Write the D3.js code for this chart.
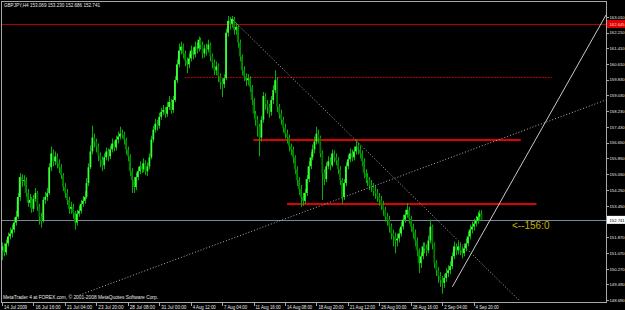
<!DOCTYPE html>
<html>
<head>
<meta charset="utf-8">
<script src="https://cdn.jsdelivr.net/npm/d3@7"></script>
<style>
body{margin:0;background:#000;}
svg{display:block;}
text{font-family:"Liberation Sans",Arial,sans-serif;}
</style>
</head>
<body>
<svg id="chart" width="625" height="310"></svg>
<script>
// GBPJPY H4 candles, one value per bar
var barOpen = [
151.20,151.40,151.10,151.55,151.90,152.05,152.25,152.60,152.90,153.90,
154.90,154.70,154.75,154.10,153.60,153.75,153.30,153.80,154.10,153.40,
152.90,152.70,153.75,153.90,154.10,155.40,156.10,155.70,155.95,155.60,
155.40,155.00,154.40,154.10,153.75,153.30,153.40,153.10,152.60,153.05,
153.20,153.55,153.70,153.90,154.60,155.40,156.20,156.90,156.70,156.45,
156.00,155.75,155.50,155.90,156.20,155.95,156.30,156.60,156.40,156.80,
156.95,157.10,157.05,156.80,156.30,155.95,155.20,154.75,154.40,154.90,
155.20,155.45,155.30,155.60,155.20,155.45,155.90,156.80,157.30,157.60,
157.50,157.95,158.20,158.30,158.10,158.45,158.70,158.30,158.80,159.80,
160.60,161.30,161.50,161.15,160.80,160.60,160.90,161.30,161.10,161.50,
161.40,161.85,161.60,161.15,161.40,161.35,161.60,161.00,160.70,160.30,
160.50,160.00,159.70,159.60,159.90,162.20,162.80,162.65,162.90,162.35,
162.50,161.70,161.00,160.30,160.00,159.80,159.90,159.45,158.80,158.10,
157.80,157.45,156.90,157.80,159.00,158.60,158.45,158.20,158.80,159.30,
159.80,158.45,158.10,157.80,157.40,157.10,156.90,156.45,156.30,155.90,
155.30,154.75,154.30,153.90,153.70,154.10,154.80,155.45,155.90,156.30,
156.70,157.10,156.90,156.10,155.10,154.80,155.45,155.70,155.50,156.10,
155.90,155.75,155.30,154.75,153.90,154.60,155.45,155.80,156.10,155.90,
156.20,156.45,156.30,156.10,155.70,155.10,154.90,154.75,154.50,154.40,
154.20,154.10,153.90,153.75,153.50,153.25,152.90,152.75,152.40,152.05,
151.90,151.70,151.80,152.05,152.40,152.75,153.00,153.25,152.80,152.40,
152.10,151.70,151.20,150.55,150.90,151.40,151.30,151.20,151.70,152.40,
151.50,150.55,150.20,149.90,149.70,149.55,149.80,150.05,150.20,150.40,
150.90,151.40,151.20,151.40,151.20,151.05,151.30,151.55,151.90,152.25,
152.40,152.55,152.70,152.90,153.07];

var barHigh = [
151.60,151.55,151.75,152.10,152.35,152.50,152.85,153.20,154.10,155.10,
155.05,155.00,154.90,154.30,154.05,153.90,154.00,154.35,154.20,153.55,
153.10,153.90,154.15,154.35,155.60,156.45,156.30,156.20,156.10,155.80,
155.55,155.10,154.60,154.30,153.90,153.65,153.55,153.20,153.25,153.45,
153.75,153.95,154.20,154.85,155.60,156.50,157.50,157.10,156.85,156.60,
156.15,155.95,156.10,156.40,156.35,156.50,156.85,156.75,157.00,157.20,
157.45,157.30,157.20,156.90,156.45,156.05,155.35,154.90,155.10,155.40,
155.70,155.60,155.85,155.75,155.65,156.10,157.00,157.50,157.85,157.80,
158.15,158.40,158.55,158.45,158.70,159.00,158.85,159.00,160.00,160.85,
161.65,161.75,161.65,161.30,160.95,161.15,161.55,161.45,161.75,161.70,
162.00,161.95,161.75,161.60,161.65,161.85,161.70,161.15,160.85,160.75,
160.65,160.15,159.90,160.10,162.40,163.05,163.00,163.05,163.00,162.70,
162.60,161.85,161.10,160.50,160.15,160.10,160.00,159.55,158.90,158.25,
158.00,157.60,158.00,159.20,159.15,158.80,158.60,159.00,159.55,160.30,
159.95,158.60,158.30,157.95,157.60,157.30,157.05,156.60,156.45,156.00,
155.45,154.90,154.50,154.10,154.30,155.00,155.70,156.15,156.55,156.95,
157.45,157.30,157.00,156.25,155.30,155.65,155.95,155.90,156.30,156.25,
156.10,155.90,155.45,154.85,154.80,155.65,156.05,156.35,156.30,156.45,
156.80,156.65,156.50,156.25,155.85,155.30,155.10,154.90,154.75,154.60,
154.45,154.30,154.10,153.95,153.70,153.40,153.10,152.95,152.55,152.25,
152.10,152.05,152.30,152.65,153.00,153.25,153.60,153.40,152.95,152.55,
152.25,151.85,151.30,151.10,151.60,151.60,151.50,151.95,152.75,152.50,
151.60,150.70,150.35,150.10,149.90,150.00,150.30,150.45,150.65,151.10,
151.65,151.55,151.65,151.55,151.40,151.55,151.80,152.15,152.50,152.65,
152.80,152.95,153.15,153.23,153.23];

var barLow = [
150.70,150.90,150.95,151.40,151.75,151.85,152.10,152.45,152.80,153.70,
154.40,154.45,153.90,153.40,153.35,153.10,153.15,153.65,153.20,152.50,
152.35,152.60,153.55,153.70,154.00,155.20,155.45,155.50,155.35,155.10,
154.80,154.20,153.85,153.50,153.05,153.05,152.80,152.25,152.45,152.90,
153.05,153.40,153.55,153.80,154.45,155.30,156.05,156.40,156.15,155.70,
155.40,155.20,155.30,155.75,155.70,155.80,156.15,156.20,156.25,156.60,
156.80,156.85,156.55,156.05,155.70,154.95,154.10,154.10,154.25,154.75,
155.05,155.10,155.15,155.00,154.95,155.30,155.80,156.65,157.15,157.25,
157.35,157.80,158.05,157.90,157.95,158.30,158.10,158.15,158.70,159.65,
160.45,161.10,160.90,160.50,160.15,160.40,160.75,160.85,160.95,161.15,
161.25,161.35,160.90,160.95,161.05,161.20,160.75,160.40,160.05,160.05,
159.70,159.35,158.95,159.40,159.80,162.00,162.35,162.45,162.10,162.10,
161.45,160.75,160.05,159.75,159.50,159.55,159.20,158.55,157.85,157.50,
156.95,155.95,156.70,157.65,158.30,158.10,157.90,158.00,158.60,159.15,
158.20,157.85,157.55,157.15,156.85,156.60,156.20,156.00,155.60,155.05,
154.45,154.00,153.40,153.45,153.55,153.95,154.65,155.30,155.75,156.10,
156.55,156.60,155.90,153.75,154.50,154.65,155.30,155.25,155.40,155.65,
155.50,155.05,154.50,153.55,153.75,154.45,155.30,155.65,155.70,155.75,
156.05,156.05,155.85,155.45,154.85,154.60,154.45,154.25,154.15,153.95,
153.80,153.65,153.45,153.25,152.95,152.65,152.45,152.10,151.75,151.40,
151.05,151.40,151.60,151.90,152.25,152.60,152.85,152.55,152.15,151.80,
151.40,150.90,150.05,150.30,150.75,151.05,150.90,151.05,151.55,151.25,
150.30,149.90,149.55,149.35,149.00,149.30,149.60,149.85,150.00,150.25,
150.75,150.95,151.00,150.95,150.80,150.90,151.15,151.40,151.75,152.05,
152.20,152.40,152.55,152.69,152.69];

var barClose = [
151.40,151.10,151.55,151.90,152.05,152.25,152.60,152.90,153.90,154.90,
154.70,154.75,154.10,153.60,153.75,153.30,153.80,154.10,153.40,152.90,
152.70,153.75,153.90,154.10,155.40,156.10,155.70,155.95,155.60,155.40,
155.00,154.40,154.10,153.75,153.30,153.40,153.10,152.60,153.05,153.20,
153.55,153.70,153.90,154.60,155.40,156.20,156.90,156.70,156.45,156.00,
155.75,155.50,155.90,156.20,155.95,156.30,156.60,156.40,156.80,156.95,
157.10,157.05,156.80,156.30,155.95,155.20,154.75,154.40,154.90,155.20,
155.45,155.30,155.60,155.20,155.45,155.90,156.80,157.30,157.60,157.50,
157.95,158.20,158.30,158.10,158.45,158.70,158.30,158.80,159.80,160.60,
161.30,161.50,161.15,160.80,160.60,160.90,161.30,161.10,161.50,161.40,
161.85,161.60,161.15,161.40,161.35,161.60,161.00,160.70,160.30,160.50,
160.00,159.70,159.60,159.90,162.20,162.80,162.65,162.90,162.35,162.50,
161.70,161.00,160.30,160.00,159.80,159.90,159.45,158.80,158.10,157.80,
157.45,156.90,157.80,159.00,158.60,158.45,158.20,158.80,159.30,159.80,
158.45,158.10,157.80,157.40,157.10,156.90,156.45,156.30,155.90,155.30,
154.75,154.30,153.90,153.70,154.10,154.80,155.45,155.90,156.30,156.70,
157.10,156.90,156.10,155.10,154.80,155.45,155.70,155.50,156.10,155.90,
155.75,155.30,154.75,153.90,154.60,155.45,155.80,156.10,155.90,156.20,
156.45,156.30,156.10,155.70,155.10,154.90,154.75,154.50,154.40,154.20,
154.10,153.90,153.75,153.50,153.25,152.90,152.75,152.40,152.05,151.90,
151.70,151.80,152.05,152.40,152.75,153.00,153.25,152.80,152.40,152.10,
151.70,151.20,150.55,150.90,151.40,151.30,151.20,151.70,152.40,151.50,
150.55,150.20,149.90,149.70,149.55,149.80,150.05,150.20,150.40,150.90,
151.40,151.20,151.40,151.20,151.05,151.30,151.55,151.90,152.25,152.40,
152.55,152.70,152.90,153.07,152.74];

// time axis: label every 16 bars
var timeTickBars = [0,16,32,48,64,80,96,112,128,144,160,176,192,208,224,240];
var timeLabels = ["14 Jul 2009","16 Jul 16:00","21 Jul 04:00","23 Jul 20:00","28 Jul 08:00",
	"31 Jul 00:00","4 Aug 12:00","7 Aug 04:00","11 Aug 16:00","14 Aug 08:00","18 Aug 20:00",
	"21 Aug 12:00","26 Aug 00:00","28 Aug 16:00","2 Sep 04:00","4 Sep 20:00"];

var priceTicks = [163.010,162.210,161.410,160.610,159.830,159.030,158.230,157.430,156.650,
	155.850,155.050,154.250,153.450,151.870,151.070,150.270,149.490,148.690];

var bidPrice = 152.741,
	alertPrice = 162.645;

// drawn support / resistance levels: [price, fromBar, toBar]
var levelThin = [159.96, 93, 280];
var levelsThick = [[156.78, 128, 264], [153.56, 145, 272]];

// trend lines: [bar0, price0, bar1, price1]
var trendDown = [117.6, 162.84, 263, 148.69];
var trendLong = [39.5, 148.94, 307.3, 158.80];
var trendUp = [229.2, 149.36, 307.4, 163.10];

var headerText = "GBPJPY,H4  153.069 153.230 152.686 152.741";
var footerText = "MetaTrader 4 at FOREX.com, \u00a9 2001-2008 MetaQuotes Software Corp.";
var noteText = "<--156:0";

(function(){
	/*** layout ***/
	var W = 625, H = 310,
		pLeft = 1, pRight = 606, pTop = 1, pBottom = 302;

	var svg = d3.select("#chart");
	svg.append("rect").attr("width", W).attr("height", H).attr("fill", "#000");

	var x = d3.scaleLinear().domain([0, 244]).range([2, 2 + 244 * 1.965]);
	var y = d3.scaleLinear().domain([148.69, 163.01]).range([300, 16.7]);

	svg.append("clipPath").attr("id", "plotclip")
		.append("rect").attr("x", pLeft).attr("y", pTop)
		.attr("width", pRight - pLeft).attr("height", pBottom - pTop);
	var plot = svg.append("g").attr("clip-path", "url(#plotclip)");

	function crisp(v){ return Math.round(v) + 0.5; }

	// full width lines
	plot.append("line")
		.attr("x1", pLeft).attr("x2", pRight)
		.attr("y1", crisp(y(alertPrice))).attr("y2", crisp(y(alertPrice)))
		.attr("stroke", "#b00000").attr("stroke-width", 1);

	plot.append("line")
		.attr("x1", pLeft).attr("x2", pRight)
		.attr("y1", crisp(y(bidPrice))).attr("y2", crisp(y(bidPrice)))
		.attr("stroke", "#778899").attr("stroke-width", 1);

	// levels
	plot.append("line")
		.attr("x1", x(levelThin[1])).attr("x2", x(levelThin[2]))
		.attr("y1", crisp(y(levelThin[0]))).attr("y2", crisp(y(levelThin[0])))
		.attr("stroke", "#c00000").attr("stroke-width", 1).attr("stroke-dasharray", "2,1");

	plot.selectAll(".level").data(levelsThick).enter()
		.append("line")
		.attr("class", "level")
		.attr("x1", function(d){ return x(d[1]); })
		.attr("x2", function(d){ return x(d[2]); })
		.attr("y1", function(d){ return Math.round(y(d[0])); })
		.attr("y2", function(d){ return Math.round(y(d[0])); })
		.attr("stroke", "#e00000").attr("stroke-width", 2);

	// candles
	var bars = d3.range(barClose.length);
	plot.selectAll(".wick").data(bars).enter()
		.append("line")
		.attr("class", "wick")
		.attr("x1", function(i){ return crisp(x(i)); })
		.attr("x2", function(i){ return crisp(x(i)); })
		.attr("y1", function(i){ return y(barHigh[i]); })
		.attr("y2", function(i){ return y(barLow[i]); })
		.attr("stroke", "#00b400").attr("stroke-width", 1);

	plot.selectAll(".body").data(bars).enter()
		.append("rect")
		.attr("class", "body")
		.attr("x", function(i){ return x(i) - 0.9; })
		.attr("width", 1.8)
		.attr("y", function(i){ return y(Math.max(barOpen[i], barClose[i])); })
		.attr("height", function(i){ return Math.max(1, Math.abs(y(barOpen[i]) - y(barClose[i]))); })
		.attr("fill", function(i){ return barClose[i] >= barOpen[i] ? "#3cff3c" : "#007800"; });

	// trend lines
	function trend(t, dash, color){
		var l = plot.append("line")
			.attr("x1", x(t[0])).attr("y1", y(t[1]))
			.attr("x2", x(t[2])).attr("y2", y(t[3]))
			.attr("stroke", color).attr("stroke-width", 1);
		if(dash){ l.attr("stroke-dasharray", dash); }
	}
	trend(trendDown, "1,2", "#b0b0b0");
	trend(trendLong, "1,2", "#b0b0b0");
	trend(trendUp, null, "#c8c8c8");

	// frame
	svg.append("rect")
		.attr("x", pLeft + 0.5).attr("y", pTop + 0.5)
		.attr("width", pRight - pLeft).attr("height", pBottom - pTop)
		.attr("fill", "none").attr("stroke", "#a8a8a8").attr("stroke-width", 1);

	// price axis
	var pAxis = svg.append("g");
	pAxis.selectAll(".ptick").data(priceTicks).enter()
		.append("line")
		.attr("x1", pRight + 0.5).attr("x2", pRight + 3)
		.attr("y1", function(d){ return crisp(y(d)); })
		.attr("y2", function(d){ return crisp(y(d)); })
		.attr("stroke", "#a8a8a8");
	pAxis.selectAll(".plabel").data(priceTicks).enter()
		.append("text")
		.attr("x", pRight + 3.5)
		.attr("y", function(d){ return y(d) + 1.8; })
		.attr("fill", "#e8e8e8").attr("font-size", "4.2px")
		.text(function(d){ return d.toFixed(3); });

	function priceBox(p, fill, textColor){
		pAxis.append("rect")
			.attr("x", pRight + 1).attr("y", y(p) - 4)
			.attr("width", W - pRight).attr("height", 8)
			.attr("fill", fill);
		pAxis.append("text")
			.attr("x", pRight + 3.5).attr("y", y(p) + 1.8)
			.attr("fill", textColor).attr("font-size", "4.2px")
			.text(p.toFixed(3));
	}
	priceBox(alertPrice, "#e00000", "#ffd0d0");
	priceBox(bidPrice, "#ffffff", "#000000");

	// time axis
	var tAxis = svg.append("g");
	tAxis.selectAll(".ttick").data(timeTickBars).enter()
		.append("line")
		.attr("x1", function(d){ return crisp(x(d)); })
		.attr("x2", function(d){ return crisp(x(d)); })
		.attr("y1", pBottom + 0.5).attr("y2", pBottom + 4)
		.attr("stroke", "#a8a8a8");
	tAxis.selectAll(".tlabel").data(timeTickBars).enter()
		.append("text")
		.attr("x", function(d){ return x(d) + 2; })
		.attr("y", 308.5)
		.attr("fill", "#e8e8e8").attr("font-size", "5.4px")
		.attr("textLength", function(d, i){ return timeLabels[i].length * 2.1; })
		.attr("lengthAdjust", "spacingAndGlyphs")
		.text(function(d, i){ return timeLabels[i]; });

	// texts
	svg.append("text")
		.attr("x", 4).attr("y", 7)
		.attr("fill", "#e8e8e8").attr("font-size", "5.2px")
		.attr("textLength", 96).attr("lengthAdjust", "spacingAndGlyphs")
		.text(headerText);

	svg.append("text")
		.attr("x", 3).attr("y", 298.5)
		.attr("fill", "#e8e8e8").attr("font-size", "5px")
		.attr("textLength", 155).attr("lengthAdjust", "spacingAndGlyphs")
		.text(footerText);

	svg.append("text")
		.attr("x", 512).attr("y", 229)
		.attr("fill", "#c8b000").attr("font-size", "10px")
		.text(noteText);
})();
</script>
</body>
</html>
